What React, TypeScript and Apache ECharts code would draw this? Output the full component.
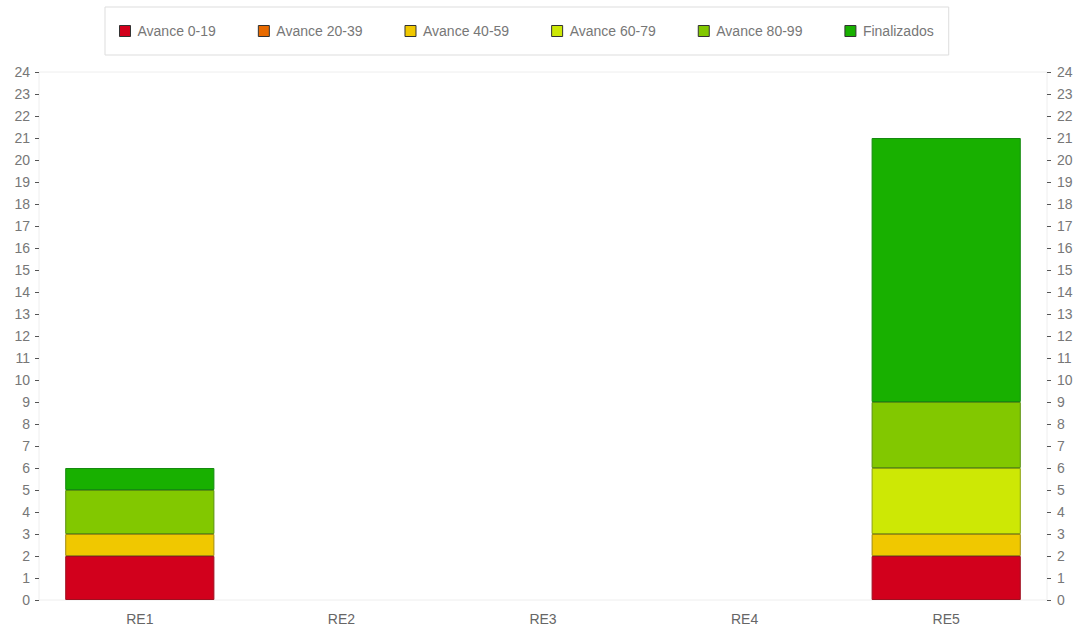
import React, { useEffect, useRef } from "react";
import * as echarts from "echarts";

const categories = ["RE1", "RE2", "RE3", "RE4", "RE5"];
const seriesNames = ["Avance 0-19", "Avance 20-39", "Avance 40-59", "Avance 60-79", "Avance 80-99", "Finalizados"];
const avance0_19 = [2, 0, 0, 0, 2];
const avance20_39 = [0, 0, 0, 0, 0];
const avance40_59 = [1, 0, 0, 0, 1];
const avance60_79 = [0, 0, 0, 0, 3];
const avance80_99 = [2, 0, 0, 0, 3];
const finalizados = [1, 0, 0, 0, 12];
const seriesData = [avance0_19, avance20_39, avance40_59, avance60_79, avance80_99, finalizados];
const colors = ["#D2001C", "#E86A00", "#F0C800", "#CDE805", "#82C800", "#18B000"];
const borders = ["#9E1020", "#8A4A10", "#A08A10", "#8AA010", "#5A9010", "#158A10"];

export default function App() {
  const ref = useRef<HTMLDivElement>(null);
  useEffect(() => {
    if (!ref.current) return;
    const chart = echarts.init(ref.current, undefined, { renderer: "svg" });
    const font = "'Liberation Sans', Arial, sans-serif";
    const yAxisBase = {
      type: "value",
      min: 0,
      max: 24,
      interval: 1,
      axisLine: { show: false },
      axisTick: { show: true, length: 4, lineStyle: { color: "#555555" } },
      axisLabel: { color: "#777777", fontSize: 14, fontFamily: font },
      splitLine: { show: false },
    };
    chart.setOption({
      animation: false,
      legend: {
        data: seriesNames.map((n, i) => ({
          name: n,
          itemStyle: { color: colors[i], borderColor: "#333333", borderWidth: 1 },
        })),
        left: 105,
        top: 7,
        padding: [17, 15, 17, 14],
        itemGap: 42,
        itemWidth: 11,
        itemHeight: 11,
        icon: "rect",
        borderColor: "#dddddd",
        borderWidth: 1,
        textStyle: { color: "#777777", fontSize: 14, fontFamily: font, padding: [0, 0, 0, 2] },
      },
      grid: {
        left: 39,
        right: 31,
        top: 72,
        bottom: 29,
        containLabel: false,
        show: true,
        borderColor: "#eeeeee",
        borderWidth: 1,
      },
      xAxis: {
        type: "category",
        data: categories,
        axisLine: { show: false },
        axisTick: { show: false },
        axisLabel: { color: "#666666", fontSize: 14, fontFamily: font, margin: 12 },
        splitLine: { show: false },
      },
      yAxis: [
        { ...yAxisBase, position: "left", axisLabel: { ...yAxisBase.axisLabel, margin: 9 } },
        { ...yAxisBase, position: "right", axisLabel: { ...yAxisBase.axisLabel, margin: 10 } },
      ],
      series: seriesNames.map((n, i) => ({
        name: n,
        type: "bar",
        stack: "total",
        yAxisIndex: 0,
        barCategoryGap: "26%",
        data: seriesData[i].map((v) => (v === 0 ? null : v)),
        itemStyle: { color: colors[i], borderColor: borders[i], borderWidth: 1 },
      })),
    });
    return () => chart.dispose();
  }, []);
  return (
    <div
      ref={ref}
      style={{ position: "absolute", left: 0, top: 0, width: 1078, height: 629 }}
    />
  );
}
